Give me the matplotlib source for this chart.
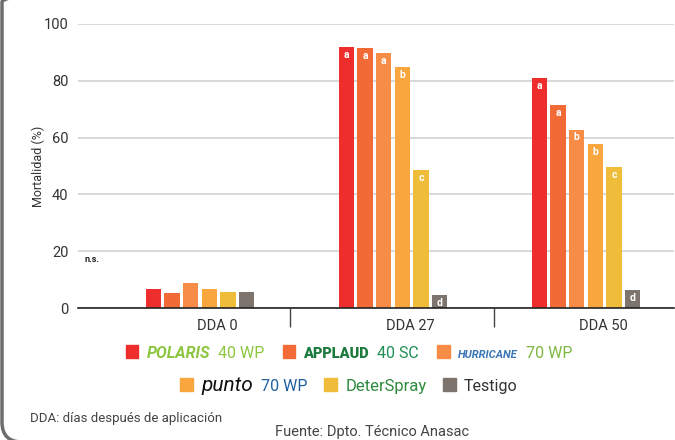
import matplotlib
matplotlib.use("Agg")
import matplotlib.pyplot as plt
import numpy as np
from matplotlib.patches import Rectangle, FancyBboxPatch
from matplotlib.offsetbox import AnchoredOffsetbox, DrawingArea, HPacker, TextArea
from matplotlib.transforms import IdentityTransform

plt.rcParams['font.family'] = ['Roboto', 'DejaVu Sans']

# data
categories = ["DDA 0", "DDA 27", "DDA 50"]
products = ["Polaris 40 WP", "Applaud 40 SC", "Hurricane 70 WP",
            "Punto 70 WP", "DeterSpray", "Testigo"]
mortality = [
    [6.7, 91.7, 80.8],   # Polaris
    [5.3, 91.5, 71.3],   # Applaud
    [8.9, 89.6, 62.8],   # Hurricane
    [6.8, 84.7, 57.6],   # Punto
    [5.6, 48.6, 49.6],   # DeterSpray
    [5.6, 4.6, 6.5],     # Testigo
]
letters = [
    ["", "a", "a"],
    ["", "a", "a"],
    ["", "a", "b"],
    ["", "b", "b"],
    ["", "c", "c"],
    ["", "d", "d"],
]
yticks = [0, 20, 40, 60, 80, 100]

colors = ["#ee2e2c", "#f26b36", "#f68c45", "#f9a63f", "#efbd3a", "#7d756d"]

fig = plt.figure(figsize=(6.75, 4.4), dpi=100)
ax = fig.add_axes([78 / 675, 1 - 308.3 / 440, (674 - 78) / 675, (308.3 - 23.7) / 440])

x = np.arange(len(categories))
pitch = 0.0964
width = 0.080
for i, vals in enumerate(mortality):
    pos = x + (i - 2.5) * pitch
    ax.bar(pos, vals, width=width, color=colors[i], zorder=3)
    for px, v, lab in zip(pos, vals, letters[i]):
        if lab:
            ax.text(px, v - 1.0, lab, ha='center', va='top', color='white',
                    fontsize=7.5, fontweight='bold', zorder=4)

ax.text(-0.6, 17.0, "n.s.", fontsize=6.5, fontweight='bold', color='#222',
        va='center')

ax.set_xlim(-0.632, 2.456)
ax.set_ylim(0, 100)
ax.set_yticks(yticks)
ax.yaxis.grid(True, color='#d8d8d8', linewidth=1.4, zorder=0)
ax.tick_params(axis='y', length=0, pad=7, labelsize=10.5, labelcolor='#333')

ax.set_xticks(x + 0.09)
ax.set_xticklabels(categories, fontsize=10.5, color='#333')
ax.set_xticks([0.466, 1.523], minor=True)
ax.tick_params(axis='x', which='major', length=0, pad=8)
ax.tick_params(axis='x', which='minor', length=14, width=1, color='#444')

for s in ['top', 'right', 'left']:
    ax.spines[s].set_visible(False)
ax.spines['bottom'].set_color('#222')
ax.spines['bottom'].set_linewidth(1.2)
ax.spines['bottom'].set_zorder(5)

ax.set_ylabel("Mortalidad (%)", fontsize=9, color='#333', labelpad=-1)

# legend rows built from pieces with different colours
def item(color, parts):
    da = DrawingArea(9, 9, 0, 0)
    da.add_artist(Rectangle((0, 0), 9, 9, color=color))
    boxes = [da]
    for txt, props in parts:
        boxes.append(TextArea(txt, textprops=props))
    return HPacker(children=boxes, align='baseline', pad=0, sep=6)

green = '#8dc63f'
row1 = [
    item(colors[0], [("PΟLARIS", dict(color=green, fontsize=11.5, fontweight='bold', style='italic')),
                     ("40 WP", dict(color=green, fontsize=11.5))]),
    item(colors[1], [("APPLAUD", dict(color='#1c7a3c', fontsize=10.5, fontweight='heavy')),
                     ("40 SC", dict(color='#1f8f55', fontsize=11.5))]),
    item(colors[2], [("HURRICANE", dict(color='#3b76b5', fontsize=8, style='italic', fontweight='bold')),
                     ("70 WP", dict(color='#7db843', fontsize=11.5))]),
]
row2 = [
    item(colors[3], [("punto", dict(color='#111', fontsize=15, style='italic')),
                     ("70 WP", dict(color='#1f5fa0', fontsize=11.5))]),
    item(colors[4], [("DeterSpray", dict(color='#2e8b3e', fontsize=12))]),
    item(colors[5], [("Testigo", dict(color='#333', fontsize=11.5))]),
]
for row, yc, sep in [(row1, 353, 13), (row2, 385, 12)]:
    pack = HPacker(children=row, align='baseline', pad=0, sep=sep)
    anchored = AnchoredOffsetbox(loc='center', child=pack, frameon=False,
                                 bbox_to_anchor=(349 / 675, 1 - yc / 440),
                                 bbox_transform=fig.transFigure, borderpad=0, pad=0)
    fig.add_artist(anchored)

fig.text(30 / 675, 1 - 418 / 440, "DDA: días después de aplicación",
         fontsize=9.5, color='#444', va='center')
fig.text(372 / 675, 1 - 432 / 440, "Fuente: Dpto. Técnico Anasac",
         fontsize=10.5, color='#444', va='center', ha='center')

# rounded grey frame on the left/bottom
frame = FancyBboxPatch((2, -2), 700, 460, boxstyle="round,pad=0,rounding_size=20",
                       transform=IdentityTransform(), fill=False,
                       edgecolor='#6d6d6d', linewidth=2.5)
fig.add_artist(frame)

fig.savefig("out.png", dpi=100)
